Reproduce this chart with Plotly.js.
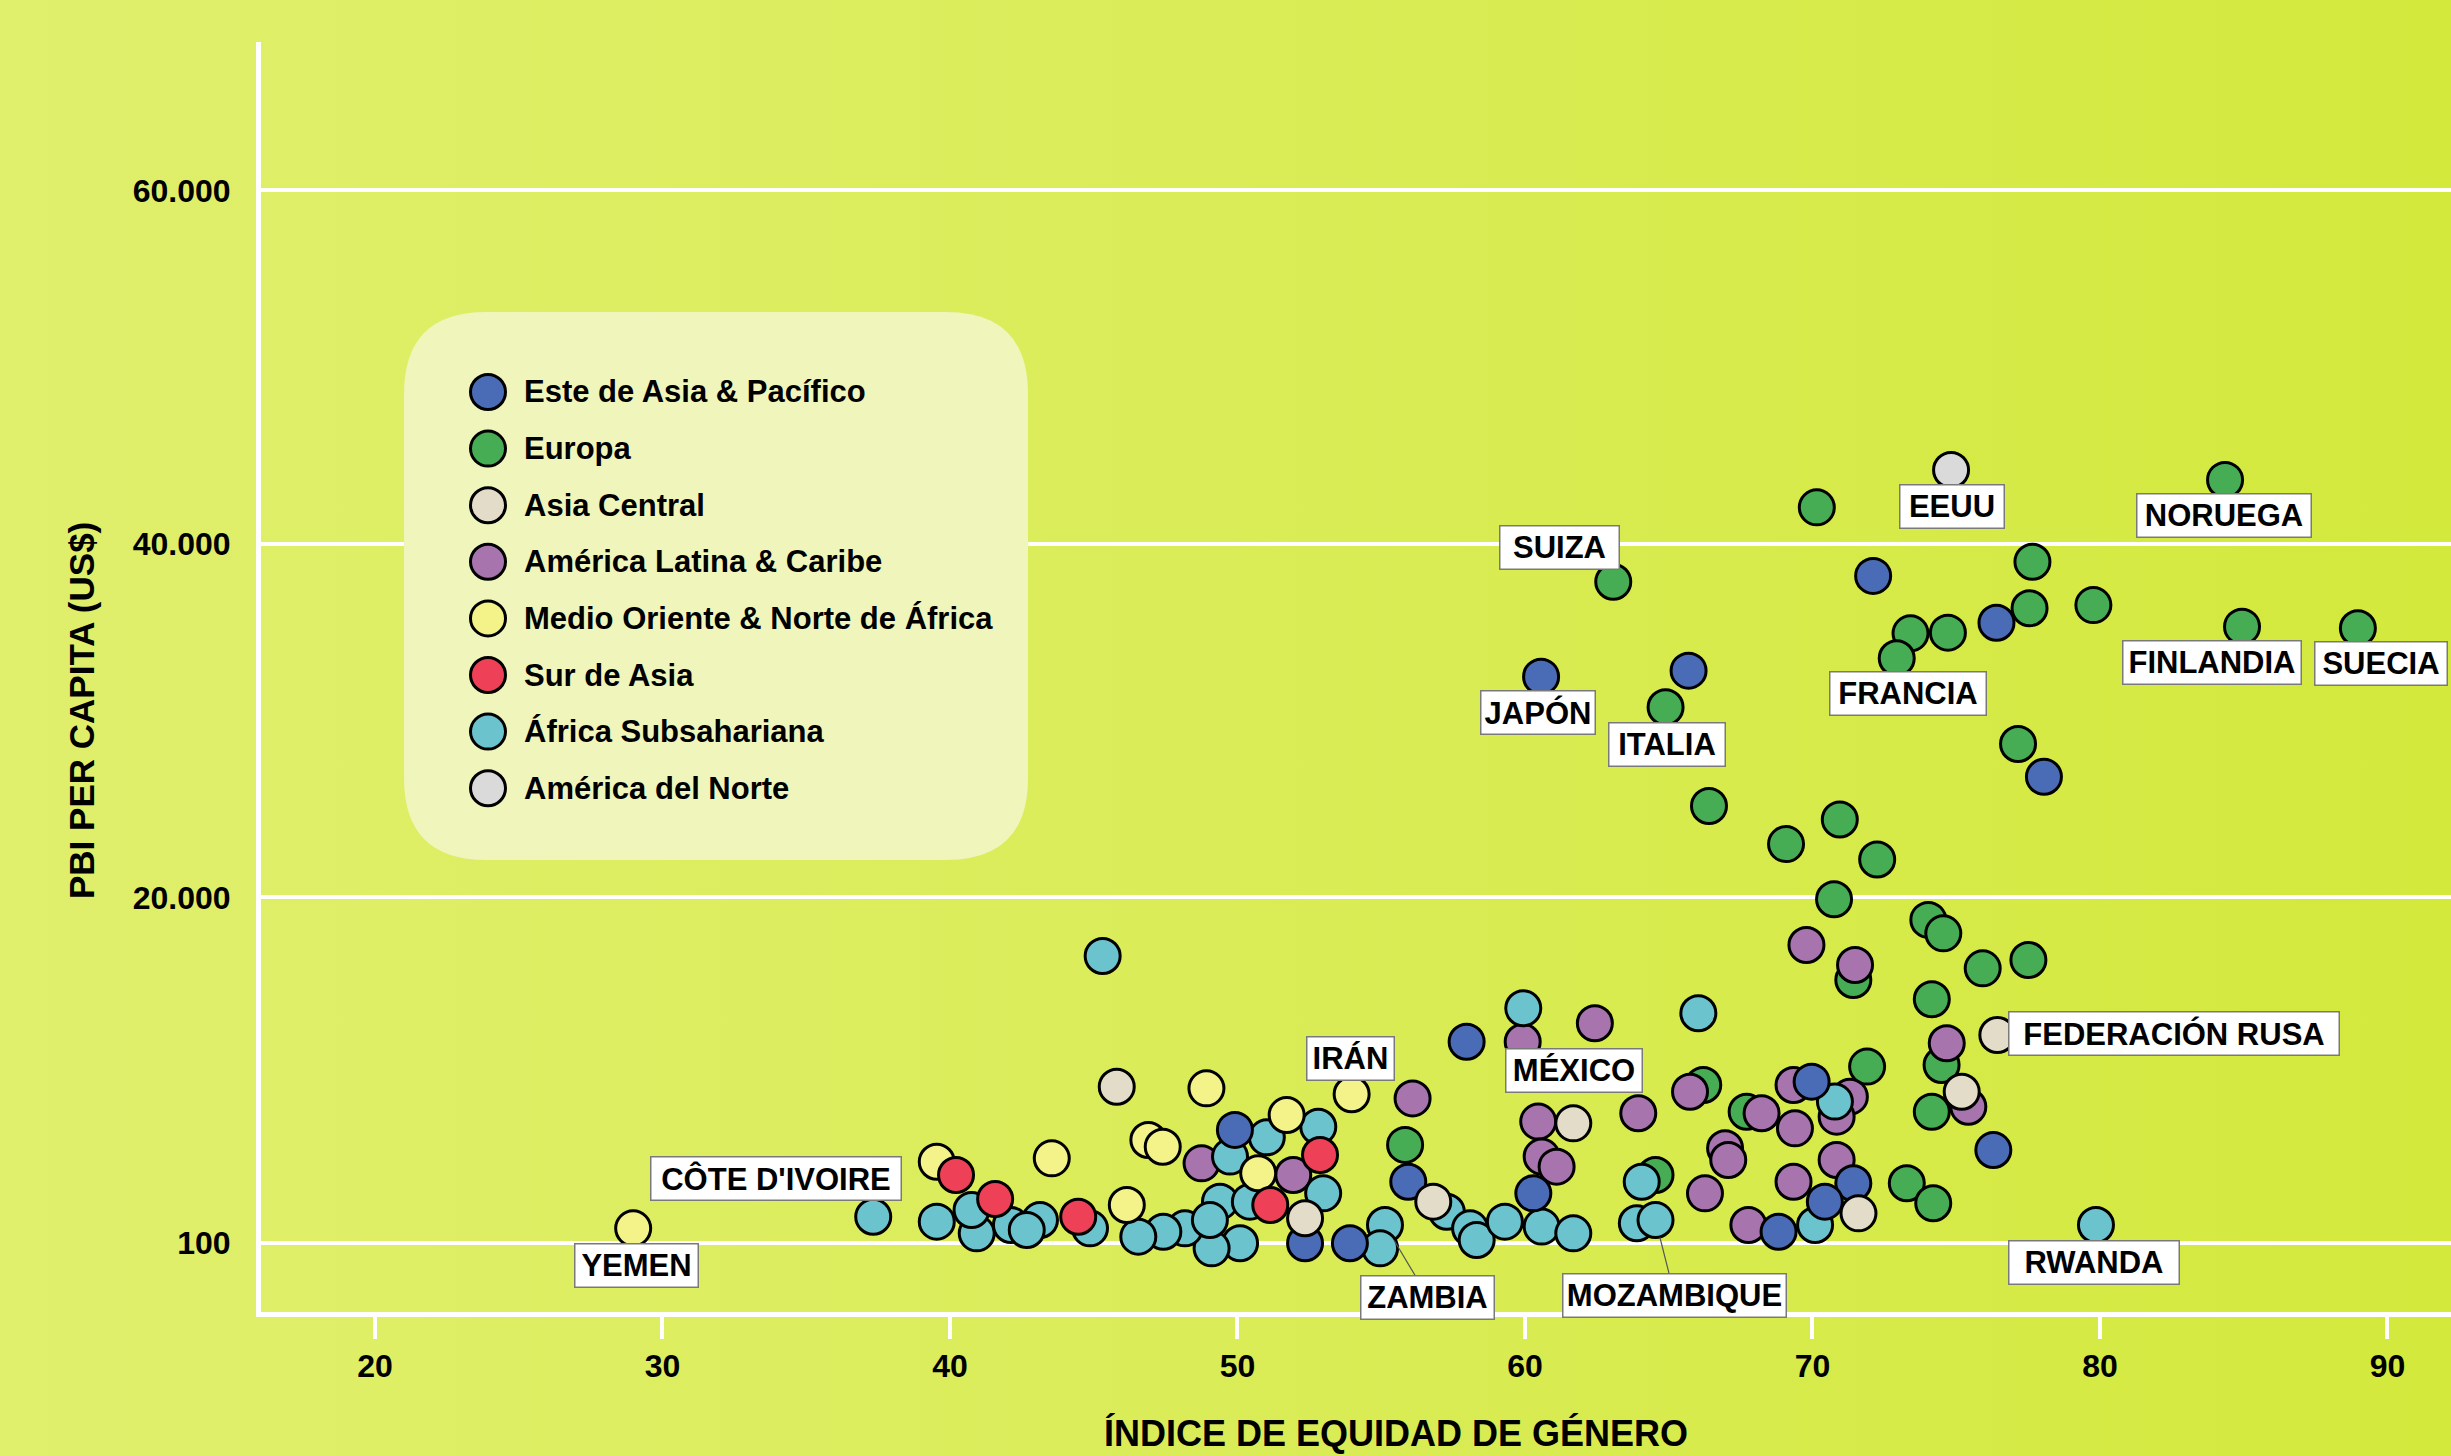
<!DOCTYPE html>
<html><head><meta charset="utf-8">
<script src="https://cdn.plot.ly/plotly-3.0.1.min.js"></script>
<style>
html,body{margin:0;padding:0;}
body{width:2451px;height:1456px;overflow:hidden;background:linear-gradient(to right,#e0ef6c 0%,#d9ec55 55%,#d3e93c 100%);}
#chart{width:2451px;height:1456px;}
</style></head><body><div id="chart"></div><script>
// ---------------- DATA ----------------
const regions = ['Este de Asia & Pacífico','Europa','Asia Central','América Latina & Caribe','Medio Oriente & Norte de África','Sur de Asia','África Subsahariana','América del Norte'];

const xTickVals = [20,30,40,50,60,70,80,90];
const xTickText = ['20','30','40','50','60','70','80','90'];
const yTickVals = [480,20000,40000,60000];
const yTickText = ['100','20.000','40.000','60.000'];

// Este de Asia & Pacífico
const eapX = [72.11,76.40,60.56,65.69,78.05,76.29,57.97,49.91,55.94,52.35,53.91,60.29,68.82,69.97,71.42,70.43];
const eapY = [38190,35540,32490,32830,26830,5710,11840,6850,3920,440,440,3260,1090,9580,3830,2790];
const eapNames = ['','','JAPÓN','','','','','','','','','','','','',''];
// Europa
const eurX = [61.07,84.35,70.15,63.07,77.65,79.77,77.55,74.71,73.41,72.93,84.94,88.97,64.89,77.15,66.40,70.95,69.08,72.25,70.75,74.03,74.55,75.92,77.51,71.42,74.15,74.49,71.90,74.15,73.28,74.20,55.83,66.20,64.54,67.71];
const eurY = [69140,43620,42070,37860,38990,36540,36360,34980,34940,33530,35320,35230,30760,28680,25170,24410,23020,22150,19900,18730,17970,15990,16460,15330,14240,10520,10430,7880,3830,2700,6000,9390,4300,7880];
const eurNames = ['LUXEMBURGO','NORUEGA','','SUIZA','','','','','','FRANCIA','FINLANDIA','SUECIA','ITALIA','','','','','','','','','','','','','','','','','','','','',''];
// Asia Central
const acX = [76.43,75.19,45.80,61.68,52.35,56.81,71.60];
const acY = [12220,9010,9290,7220,1850,2790,2130];
const acNames = ['FEDERACIÓN RUSA','','','','','',''];
// América Latina & Caribe
const latX = [69.79,71.48,62.43,59.92,74.67,75.42,56.09,48.75,51.94,60.46,60.58,61.10,63.94,65.74,66.26,66.96,67.07,68.23,67.77,69.34,69.39,69.34,71.30,70.84,70.84];
const latY = [17310,16180,12880,11840,11750,8160,8630,4960,4300,7320,5340,4770,7790,9010,3260,5810,5150,7790,1470,3920,6940,9390,8730,7600,5150];
const latNames = ['','','','MÉXICO','','','','','','','','','','','','','','','','','','','','',''];
// Medio Oriente & Norte de África
const menaX = [28.98,39.54,43.54,46.90,47.40,48.92,53.97,51.71,50.72,46.15];
const menaY = [1280,5050,5240,6280,5900,9200,8870,7690,4400,2600];
const menaNames = ['YEMEN','','','','','','IRÁN','','',''];
// Sur de Asia
const saX = [40.21,41.57,44.46,52.87,51.14];
const saY = [4300,2940,1940,5430,2600];
const saNames = ['','','','',''];
// África Subsahariana
const afX = [45.31,59.94,66.03,70.78,37.33,39.54,40.93,40.75,42.12,43.13,42.67,44.87,51.02,52.81,49.74,52.98,49.39,50.43,55.13,54.96,50.09,49.10,48.17,47.42,46.55,49.04,57.28,58.09,58.32,59.30,60.58,61.68,64.06,63.89,64.54,70.09,79.86];
const afY = [16690,13730,13450,8450,1940,1660,1000,2320,1470,1750,1190,1280,6430,7030,5340,3260,2790,2790,1470,150,440,150,1280,1090,810,1750,2220,1280,620,1660,1380,1000,3920,1570,1750,1470,1470];
const afNames = ['','','','',"CÔTE D'IVOIRE",'','','','','','','','','','','','','','ZAMBIA','','','','','','','','','','','','','','','','MOZAMBIQUE','','RWANDA'];
// América del Norte
const naX = [74.82];
const naY = [44180];
const naNames = ['EEUU'];

// ---------------- STYLE ----------------
const SANS = '"Liberation Sans",Arial,Helvetica,sans-serif';
const colors = {
  'Este de Asia & Pacífico':'#4a6cb6',
  'Europa':'#46ad55',
  'Asia Central':'#e2dcc8',
  'América Latina & Caribe':'#a774ae',
  'Medio Oriente & Norte de África':'#f3f38a',
  'Sur de Asia':'#ee4157',
  'África Subsahariana':'#6bc4cd',
  'América del Norte':'#dadada'
};
// draw order bottom -> top
const series = [
  {name:'Europa', x:eurX, y:eurY, names:eurNames},
  {name:'América Latina & Caribe', x:latX, y:latY, names:latNames},
  {name:'África Subsahariana', x:afX, y:afY, names:afNames},
  {name:'Medio Oriente & Norte de África', x:menaX, y:menaY, names:menaNames},
  {name:'Sur de Asia', x:saX, y:saY, names:saNames},
  {name:'Este de Asia & Pacífico', x:eapX, y:eapY, names:eapNames},
  {name:'Asia Central', x:acX, y:acY, names:acNames},
  {name:'América del Norte', x:naX, y:naY, names:naNames}
];
// label box placement (pixel offset of box centre from point, box width)
const labelPos = {
  'LUXEMBURGO':{dx:3,dy:38,w:259},
  'EEUU':{dx:1,dy:36,w:106},
  'NORUEGA':{dx:-1,dy:36,w:176},
  'SUIZA':{dx:-54,dy:-34,w:121},
  'JAPÓN':{dx:-3,dy:36,w:116},
  'ITALIA':{dx:1,dy:37,w:118},
  'FRANCIA':{dx:11,dy:35,w:158},
  'FINLANDIA':{dx:-30,dy:36,w:180},
  'SUECIA':{dx:23,dy:35,w:134},
  'FEDERACIÓN RUSA':{dx:177,dy:-1,w:332},
  'MÉXICO':{dx:51,dy:29,w:138},
  'IRÁN':{dx:-1,dy:-36,w:89},
  "CÔTE D'IVOIRE":{dx:-97,dy:-38,w:252},
  'YEMEN':{dx:3,dy:37,w:125},
  'RWANDA':{dx:-2,dy:37,w:172},
  'ZAMBIA':{dx:43,dy:72,w:135,arrow:true},
  'MOZAMBIQUE':{dx:19,dy:75,w:225,arrow:true}
};

// plot area in pixels
const L=261, T=42, W=2190, H=1270;
const px = v => (v-L)/W;
const py = v => (T+H-v)/H;

const traces = series.map(s => ({
  type:'scatter', mode:'markers', name:s.name, x:s.x, y:s.y, text:s.names,
  cliponaxis:false, showlegend:false, hoverinfo:'x+y+name',
  marker:{size:35, color:colors[s.name], line:{color:'#000', width:3}}
}));

const labelFont = {family:SANS, size:31, weight:'bold', color:'#000'};
const annotations = [];
series.forEach(s => {
  s.names.forEach((n,i) => {
    if(!n) return;
    const p = labelPos[n];
    const a = {x:s.x[i], y:s.y[i], xref:'x', yref:'y', text:n, font:labelFont,
      bgcolor:'#ffffff', bordercolor:'#7a7a7a', borderwidth:1.5, borderpad:1,
      width:p.w-5, height:40, align:'center', valign:'middle'};
    if(p.arrow){
      Object.assign(a,{showarrow:true, ax:p.dx, ay:p.dy, axref:'pixel', ayref:'pixel', arrowhead:0, arrowwidth:1.2, arrowcolor:'#555', standoff:18});
    } else {
      Object.assign(a,{showarrow:false, xshift:p.dx, yshift:-p.dy});
    }
    annotations.push(a);
  });
});

// axis titles
annotations.push({xref:'paper', yref:'paper', x:px(1396), y:py(1433), text:'ÍNDICE DE EQUIDAD DE GÉNERO', showarrow:false,
  xanchor:'center', yanchor:'middle', font:{family:SANS, size:36, weight:'bold', color:'#000'}});
annotations.push({xref:'paper', yref:'paper', x:px(81), y:py(711), text:'PBI PER CAPITA (US$)', showarrow:false, textangle:-90,
  xanchor:'center', yanchor:'middle', font:{family:SANS, size:35, weight:'bold', color:'#000'}});

// legend box
const shapes = [];
const bx0=404, bx1=1028, by0=312, by1=860, r=82;
const P = (x,y) => px(x).toFixed(5)+','+py(y).toFixed(5);
shapes.push({type:'path', xref:'paper', yref:'paper', layer:'above',
  path:'M'+P(bx0+r,by0)+' L'+P(bx1-r,by0)+' Q'+P(bx1,by0)+' '+P(bx1,by0+r)+' L'+P(bx1,by1-r)+' Q'+P(bx1,by1)+' '+P(bx1-r,by1)+
       ' L'+P(bx0+r,by1)+' Q'+P(bx0,by1)+' '+P(bx0,by1-r)+' L'+P(bx0,by0+r)+' Q'+P(bx0,by0)+' '+P(bx0+r,by0)+' Z',
  fillcolor:'#eff5bb', line:{width:0}});
const legRow0 = 392, legStep = 56.6, legCx = 488, legR = 17.5, legTextX = 522;
regions.forEach((reg,i) => {
  const cy = legRow0 + i*legStep;
  shapes.push({type:'circle', xref:'paper', yref:'paper', layer:'above',
    x0:px(legCx-legR), x1:px(legCx+legR), y0:py(cy+legR), y1:py(cy-legR),
    fillcolor:colors[reg], line:{color:'#000', width:3}});
  annotations.push({xref:'paper', yref:'paper', x:px(legTextX), y:py(cy), xanchor:'left', yanchor:'middle',
    text:reg, showarrow:false, font:{family:SANS, size:31, weight:'bold', color:'#000'}});
});

const tickFont = {family:SANS, size:32, weight:'bold', color:'#000'};
const layout = {
  width:2451, height:1456,
  margin:{l:L, r:2451-L-W, t:T, b:1456-T-H},
  paper_bgcolor:'rgba(0,0,0,0)', plot_bgcolor:'rgba(0,0,0,0)',
  showlegend:false,
  xaxis:{range:[16.035,92.209], tickmode:'array', tickvals:xTickVals, ticktext:xTickText,
    ticks:'outside', ticklen:22, tickwidth:4, tickcolor:'#ffffff',
    showline:true, linecolor:'#ffffff', linewidth:5, showgrid:false, zeroline:false, tickfont:tickFont},
  yaxis:{range:[-3451,68393], tickmode:'array', tickvals:yTickVals, ticktext:yTickText,
    ticks:'', showline:true, linecolor:'#ffffff', linewidth:5,
    showgrid:true, gridcolor:'#ffffff', gridwidth:4, zeroline:false, tickfont:tickFont, ticklabelstandoff:19},
  annotations:annotations,
  shapes:shapes
};
Plotly.newPlot('chart', traces, layout, {displayModeBar:false, staticPlot:true});
</script></body></html>
